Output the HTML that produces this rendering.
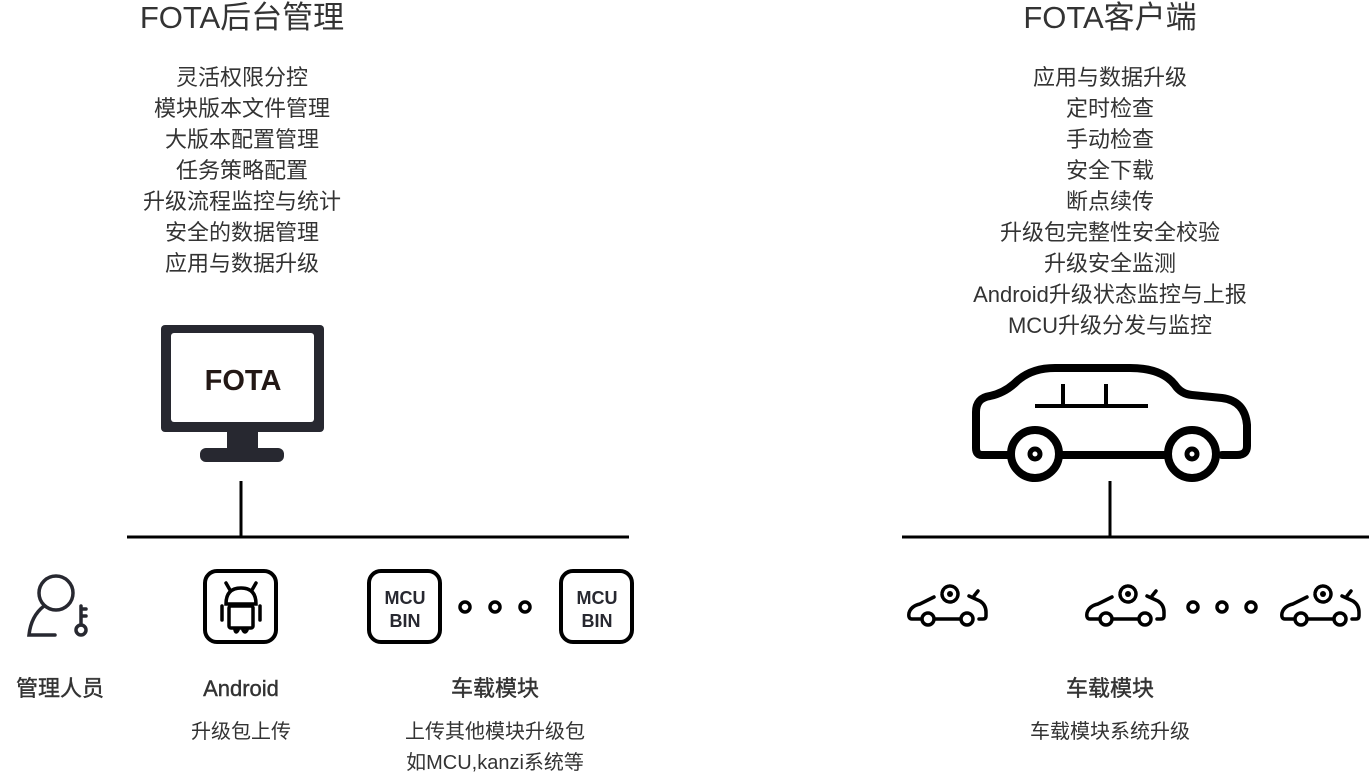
<!DOCTYPE html>
<html><head><meta charset="utf-8"><style>
html,body{margin:0;padding:0;background:#fff;}
svg{display:block}
text{font-family:"Liberation Sans","Noto Sans CJK SC",sans-serif;fill:#333;text-anchor:middle}
</style></head><body>
<svg width="1369" height="780" viewBox="0 0 1369 780" xmlns="http://www.w3.org/2000/svg">
<text x="242" y="28" font-size="31">FOTA后台管理</text>
<g font-size="22">
<text x="242" y="85">灵活权限分控</text>
<text x="242" y="116">模块版本文件管理</text>
<text x="242" y="147">大版本配置管理</text>
<text x="242" y="178">任务策略配置</text>
<text x="242" y="209">升级流程监控与统计</text>
<text x="242" y="240">安全的数据管理</text>
<text x="242" y="271">应用与数据升级</text>
</g>
<text x="1110" y="28" font-size="31">FOTA客户端</text>
<g font-size="22">
<text x="1110" y="85">应用与数据升级</text>
<text x="1110" y="116">定时检查</text>
<text x="1110" y="147">手动检查</text>
<text x="1110" y="178">安全下载</text>
<text x="1110" y="209">断点续传</text>
<text x="1110" y="240">升级包完整性安全校验</text>
<text x="1110" y="271">升级安全监测</text>
<text x="1110" y="302">Android升级状态监控与上报</text>
<text x="1110" y="333">MCU升级分发与监控</text>
</g>
<!-- monitor -->
<rect x="161" y="325" width="163" height="107" rx="4" fill="#272830"/>
<rect x="171" y="333" width="143" height="89" rx="3" fill="#fff"/>
<text x="243" y="390" font-size="29" font-weight="bold" style="fill:#231815">FOTA</text>
<rect x="227" y="430" width="31" height="20" fill="#272830"/>
<rect x="200" y="448" width="84" height="14" rx="6" fill="#272830"/>
<g stroke="#000" stroke-width="3">
<line x1="241" y1="481" x2="241" y2="537"/>
<line x1="127" y1="537" x2="629" y2="537"/>
<line x1="1110" y1="481" x2="1110" y2="537"/>
<line x1="902" y1="537" x2="1369" y2="537"/>
</g>
<!-- big car -->
<g fill="none" stroke="#000" stroke-width="8" stroke-linecap="round" stroke-linejoin="round">
<path d="M1008,455 H982 Q976,455 976,448 V412 Q976,398 990,396 Q1004,393 1015,383 Q1030,368 1055,368 H1130 Q1162,368 1175,385 Q1181,394 1192,395 L1222,398 Q1245,401 1247,425 V446 Q1247,455 1237,455 H1222"/>
<line x1="1062" y1="455" x2="1165" y2="455"/>
<circle cx="1035" cy="454" r="24"/>
<circle cx="1192" cy="454" r="24"/>
<circle cx="1035" cy="454" r="5" stroke-width="5"/>
<circle cx="1192" cy="454" r="5" stroke-width="5"/>
</g>
<g stroke="#000" stroke-width="4">
<line x1="1035" y1="406" x2="1148" y2="406"/>
<line x1="1063" y1="384" x2="1063" y2="406"/>
<line x1="1106" y1="384" x2="1106" y2="406"/>
</g>
<!-- small cars -->
<defs>
<g id="sc" fill="none" stroke="#000" stroke-width="3.5" stroke-linecap="round">
<path d="M12,619 H4 Q0,619 1,613 Q3,606 12,604 L26,597"/>
<path d="M61,596 L72,601 Q78,605 78,612 V616 Q78,619 75,619 H71"/>
<path d="M66,596 L70,591"/>
<circle cx="20" cy="619" r="6"/>
<circle cx="59" cy="619" r="6"/>
<line x1="27" y1="619" x2="52" y2="619"/>
<circle cx="42" cy="594" r="8" stroke-width="3.5" stroke-dasharray="3.5 1.8"/>
<circle cx="42" cy="594" r="3" fill="#000" stroke="none"/>
</g>
</defs>
<use href="#sc" x="908" y="0"/>
<use href="#sc" x="1086" y="0"/>
<use href="#sc" x="1281" y="0"/>
<g fill="none" stroke="#000" stroke-width="3.5">
<circle cx="1193" cy="607" r="5"/><circle cx="1222" cy="607" r="5"/><circle cx="1251" cy="607" r="5"/>
<circle cx="465" cy="607" r="5"/><circle cx="495" cy="607" r="5"/><circle cx="525" cy="607" r="5"/>
</g>
<!-- person -->
<g fill="none" stroke="#272830" stroke-width="3.5" stroke-linecap="round">
<circle cx="56" cy="593" r="17"/>
<path d="M44,606 Q31,616 29,635 H55"/>
<circle cx="81" cy="630" r="5"/>
<path d="M81,625 V606 M81,609 H86 M81,616 H86"/>
</g>
<!-- android box -->
<rect x="205" y="571" width="71" height="71" rx="12" fill="none" stroke="#000" stroke-width="4"/>
<g fill="none" stroke="#000" stroke-width="3.5" stroke-linecap="round">
<path d="M226,604 Q226,588 241,588 Q256,588 256,604 Z"/>
<path d="M230,590 L226,583 M252,590 L256,583"/>
<rect x="229" y="606" width="24" height="22" rx="2"/>
<path d="M222,606 V620 M260,606 V620"/>
<path d="M235,630 Q236,634 238,630 M243,630 Q245,634 247,630"/>
</g>
<!-- MCU boxes -->
<g fill="none" stroke="#000" stroke-width="4">
<rect x="369" y="571" width="71" height="71" rx="12"/>
<rect x="561" y="571" width="71" height="71" rx="12"/>
</g>
<g font-size="18" font-weight="bold">
<text x="405" y="604" style="fill:#272830">MCU</text>
<text x="405" y="627" style="fill:#272830">BIN</text>
<text x="597" y="604" style="fill:#272830">MCU</text>
<text x="597" y="627" style="fill:#272830">BIN</text>
</g>
<!-- labels -->
<g font-size="22" stroke="#333" stroke-width="0.4">
<text x="60" y="696">管理人员</text>
<text x="241" y="696">Android</text>
<text x="495" y="696">车载模块</text>
<text x="1110" y="696">车载模块</text>
</g>
<g font-size="20">
<text x="241" y="738">升级包上传</text>
<text x="495" y="738">上传其他模块升级包</text>
<text x="495" y="769">如MCU,kanzi系统等</text>
<text x="1110" y="738">车载模块系统升级</text>
</g>
</svg>
</body></html>
